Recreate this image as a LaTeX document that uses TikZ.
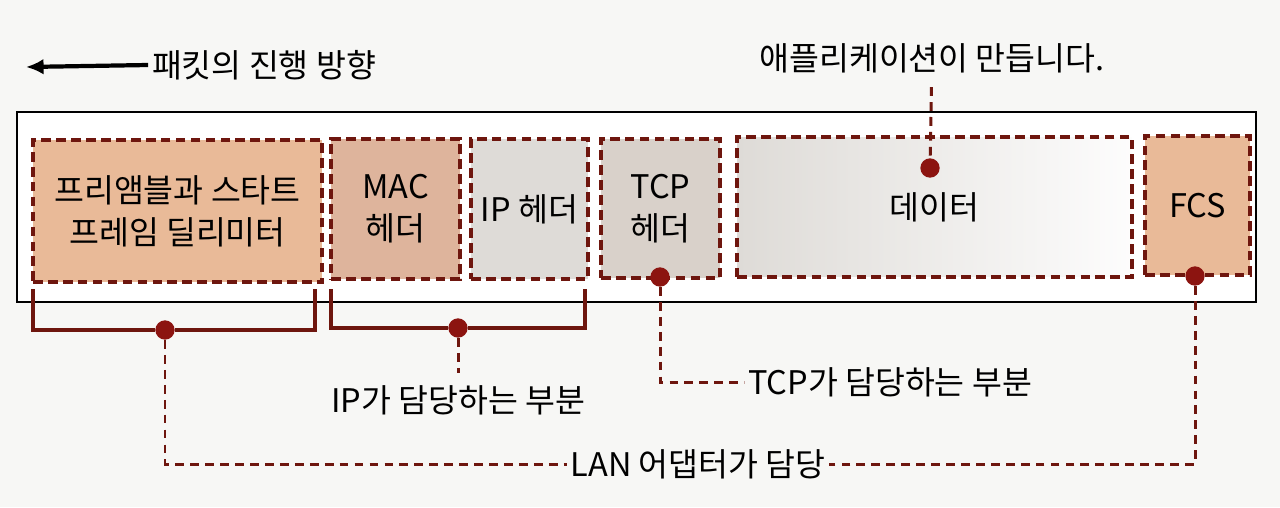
\documentclass[tikz,border=0pt]{standalone}
\usepackage{fontspec}
\setmainfont{Noto Sans CJK KR}
\usetikzlibrary{arrows.meta}
\definecolor{brd}{RGB}{110,22,14}
\definecolor{dotred}{RGB}{140,20,16}
\definecolor{peach}{RGB}{233,186,152}
\definecolor{peachdk}{RGB}{222,180,156}
\definecolor{greyA}{RGB}{222,219,215}
\definecolor{greyB}{RGB}{217,209,202}
\definecolor{paper}{RGB}{247,247,245}
\tikzset{>={Latex[length=10pt,width=9pt]}}
\tikzset{
  pkt/.style={draw=brd, line width=2.4pt, dash pattern=on 5.5pt off 3pt, align=center, inner sep=0pt},
  conn/.style={draw=brd, line width=1.7pt, dash pattern=on 5pt off 3.5pt},
  bracket/.style={draw=brd, line width=2pt},
  dot/.style={circle, fill=dotred, inner sep=0pt, minimum size=11pt},
  lbl/.style={inner sep=2pt}
}

\begin{document}
\begin{tikzpicture}[x=0.02cm, y=-0.02cm, font=\fontsize{18.5}{24}\selectfont]
\fill[paper] (0,0) rectangle (1280,507);
% direction of travel
\node[lbl] (dir) at (264,65) {패킷의 진행 방향};
\coordinate (tip) at (26,67);
\draw[->, line width=2.4pt] (dir.west) -- (tip);
% frame
\draw[line width=1.5pt, fill=white] (17,112) rectangle (1256,302);
% packet fields
\node[pkt, fill=peach, minimum width=5.78cm, minimum height=2.84cm] (pre) at (177.5,211) {프리앰블과 스타트\\프레임 딜리미터};
\node[pkt, fill=peachdk, minimum width=2.58cm, minimum height=2.8cm] (mac) at (395.5,209) {MAC\\헤더};
\node[pkt, fill=greyA, minimum width=2.34cm, minimum height=2.8cm] (ip) at (529.5,209) {IP 헤더};
\node[pkt, fill=greyB, minimum width=2.38cm, minimum height=2.78cm] (tcp) at (660.5,208.5) {TCP\\헤더};
\node[pkt, left color=greyA, right color=white!94!greyA, minimum width=7.9cm, minimum height=2.8cm] (data) at (934.5,207) {데이터};
\node[pkt, fill=peach, minimum width=2.1cm, minimum height=2.78cm] (fcs) at (1197.5,205.5) {FCS};
% dots
\node[dot] (dData) at (930,168) {};
\node[dot] (dTCP) at (660,277) {};
\node[dot] (dFCS) at (1195,276) {};
\node[dot] (dB1) at (165,330) {};
\node[dot] (dB2) at (458,328) {};
% brackets
\coordinate (b1l) at (33,289);
\coordinate (b1r) at (315,289);
\coordinate (b2l) at (331,289);
\coordinate (b2r) at (585,289);
\draw[bracket] (b1l) |- (dB1) -| (b1r);
\draw[bracket] (b2l) |- (dB2) -| (b2r);
% labels
\node[lbl] (app) at (932,58) {애플리케이션이 만듭니다.};
\node[lbl] (tcpt) at (890,382) {TCP가 담당하는 부분};
\node[lbl] (ipt) at (458,400) {IP가 담당하는 부분};
\node[lbl] (lan) at (698,464) {LAN 어댑터가 담당};
% connectors
\draw[conn, shorten <=6pt] (app) -- (dData);
\draw[conn] (dTCP) |- (tcpt.west);
\draw[conn, shorten >=5pt] (dB2) -- (ipt.north);
\draw[conn] (dB1) |- (lan.west);
\draw[conn] (dFCS) |- (lan.east);
\end{tikzpicture}
\end{document}
